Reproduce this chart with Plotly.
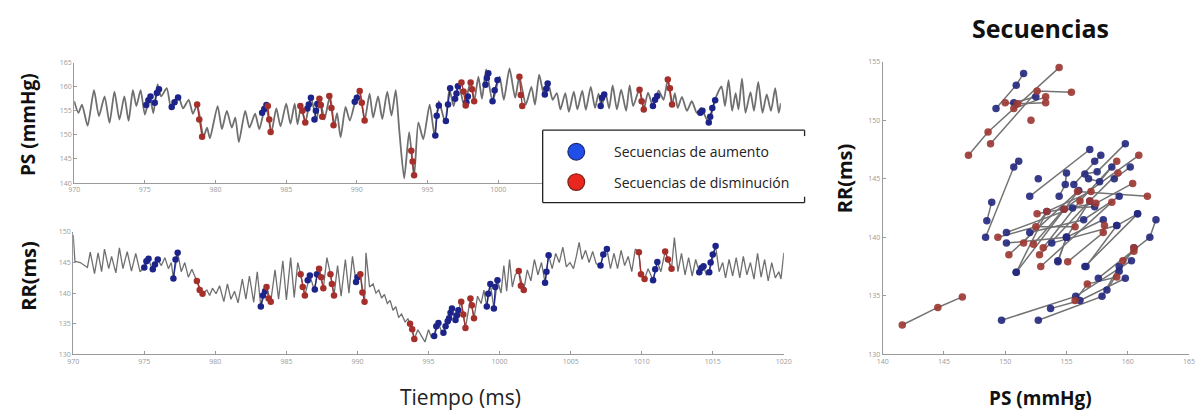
import plotly.graph_objects as go

W, H = 1201, 415

# ---------------- beat-to-beat series ----------------
ps_t = [970.0, 970.3, 970.55, 970.95, 971.4, 971.75, 972.15, 972.5, 972.85, 973.2,
        973.55, 973.85, 974.15, 974.4, 974.7, 975.0, 975.35, 975.6, 975.9, 976.15,
        976.55, 976.85, 977.35, 977.7, 978.1, 978.4, 978.7, 979.15, 979.4, 979.6,
        980.15, 980.45, 980.8, 981.15, 981.4, 981.65, 982.1, 982.4, 982.8, 983.1,
        983.55, 983.95, 984.3, 984.6, 985.0, 985.3, 985.6, 985.8, 986.05, 986.35,
        986.75, 987.15, 987.4, 987.7, 988.1, 988.4, 988.6, 988.85, 989.2, 989.5,
        989.95, 990.2, 990.55, 990.9, 991.15, 991.5, 991.8, 992.15, 992.45, 992.75,
        993.0, 993.35, 993.7, 994.05, 994.35, 994.7, 995.15, 995.5, 995.8, 996.25,
        996.55, 996.85, 997.2, 997.6, 998.05, 998.3, 998.6, 998.85, 999.15, 999.6,
        1000.1, 1000.4, 1000.8, 1001.2, 1001.5, 1001.95, 1002.35, 1002.6, 1002.9, 1003.25,
        1003.55, 1003.85, 1004.15, 1004.4, 1004.75, 1005.0, 1005.35, 1005.6, 1005.95, 1006.2,
        1006.55, 1006.85, 1007.1, 1007.3, 1007.6, 1007.85, 1008.1, 1008.4, 1008.7, 1009.05,
        1009.3, 1009.55, 1010.0, 1010.3, 1010.6, 1010.95, 1011.35, 1011.7, 1012.0, 1012.3,
        1012.5, 1012.7, 1013.0, 1013.35, 1013.7, 1014.05, 1014.35, 1014.55, 1014.9, 1015.35,
        1015.8, 1016.05, 1016.3, 1016.55, 1016.8, 1017.0, 1017.25, 1017.5, 1017.85, 1018.1,
        1018.4, 1018.7, 1019.0, 1019.3, 1019.6, 1019.85, 1020.0]
ps_v = [157.0, 154.6, 156.3, 151.9, 159.3, 153.9, 158.0, 152.5, 159.0, 153.2,
        158.0, 152.9, 159.3, 156.0, 159.3, 154.2, 158.0, 154.5, 160.5, 158.0,
        159.7, 155.8, 158.2, 155.5, 157.3, 154.4, 156.3, 149.6, 151.5, 149.3,
        156.0, 151.2, 155.0, 151.5, 153.6, 148.5, 155.0, 151.5, 154.4, 151.2,
        156.2, 150.6, 155.5, 151.8, 156.5, 152.3, 156.5, 152.2, 156.0, 152.6,
        157.7, 153.2, 157.5, 153.2, 158.1, 152.0, 154.5, 149.5, 155.8, 153.0,
        157.7, 159.1, 153.0, 158.6, 153.6, 158.0, 153.3, 159.0, 154.0, 159.3,
        151.0, 141.0, 150.6, 141.4, 152.6, 149.1, 156.3, 149.9, 157.0, 152.6,
        159.5, 156.0, 160.6, 156.0, 161.2, 157.0, 162.1, 157.5, 163.6, 157.0,
        162.1, 157.3, 163.8, 157.7, 162.1, 156.3, 160.0, 156.3, 162.5, 158.2,
        160.6, 157.3, 158.7, 155.3, 158.7, 154.8, 159.0, 155.3, 159.2, 155.2,
        160.0, 155.6, 158.6, 156.0, 158.6, 155.5, 160.3, 155.3, 159.4, 155.0,
        160.3, 156.0, 159.6, 155.3, 158.8, 156.0, 159.2, 157.3, 161.5, 156.3,
        158.7, 155.6, 157.9, 155.0, 157.0, 154.6, 155.6, 154.5, 152.6, 157.4,
        160.1, 156.0, 161.4, 155.0, 158.7, 155.3, 161.7, 154.6, 158.9, 155.0,
        161.0, 154.6, 158.4, 155.0, 159.7, 154.6, 156.6]

rr_t = [970.0, 970.12, 970.5, 970.8, 971.0, 971.2, 971.5, 971.75, 972.0, 972.2,
        972.5, 972.7, 973.0, 973.25, 973.5, 973.8, 974.1, 974.4, 974.7, 975.0,
        975.3, 975.55, 975.95, 976.2, 976.45, 976.7, 976.9, 977.05, 977.35, 977.6,
        977.85, 978.1, 978.35, 978.7, 979.1, 979.4, 979.6, 979.8, 980.05, 980.3,
        980.6, 980.85, 981.1, 981.35, 981.6, 981.9, 982.15, 982.4, 982.7, 982.95,
        983.2, 983.6, 983.9, 984.2, 984.45, 984.75, 985.0, 985.3, 985.55, 985.8,
        986.0, 986.3, 986.65, 986.95, 987.3, 987.6, 987.85, 988.1, 988.35, 988.6,
        988.85, 989.15, 989.4, 989.65, 989.9, 990.2, 990.5, 990.6, 990.85, 991.1,
        991.3, 991.5, 991.7, 991.9, 992.1, 992.3, 992.5, 992.7, 992.9, 993.1,
        993.35, 993.55, 993.7, 994.0, 994.25, 994.5, 994.75, 995.0, 995.2, 995.4,
        995.7, 995.9, 996.05, 996.35, 996.65, 996.85, 997.1, 997.3, 997.6, 997.8,
        997.95, 998.2, 998.45, 998.7, 998.9, 999.1, 999.35, 999.6, 999.85, 1000.1,
        1000.3, 1000.5, 1000.7, 1000.9, 1001.1, 1001.35, 1001.7, 1001.95, 1002.2, 1002.45,
        1002.7, 1002.95, 1003.2, 1003.45, 1003.7, 1003.95, 1004.2, 1004.45, 1004.7, 1004.95,
        1005.2, 1005.4, 1005.6, 1005.8, 1006.05, 1006.3, 1006.55, 1006.8, 1007.1, 1007.3,
        1007.55, 1007.8, 1008.05, 1008.3, 1008.55, 1008.8, 1009.05, 1009.3, 1009.55, 1009.8,
        1009.95, 1010.2, 1010.45, 1010.8, 1011.1, 1011.35, 1011.65, 1011.85, 1012.1, 1012.3,
        1012.55, 1012.8, 1013.05, 1013.3, 1013.55, 1013.8, 1014.05, 1014.35, 1014.55, 1014.75,
        1015.2, 1015.45, 1015.7, 1015.9, 1016.15, 1016.4, 1016.65, 1016.9, 1017.15, 1017.4,
        1017.65, 1017.9, 1018.15, 1018.4, 1018.65, 1018.9, 1019.15, 1019.4, 1019.65, 1019.8,
        1020.0]
rr_v = [149.5, 145.2, 145.0, 144.6, 144.2, 146.7, 143.2, 146.6, 143.5, 147.2,
        144.0, 146.0, 143.3, 147.4, 144.0, 146.8, 143.6, 146.5, 143.5, 144.2,
        145.6, 143.9, 145.5, 144.5, 145.8, 144.0, 145.0, 142.4, 146.6, 143.5,
        145.0, 142.6, 143.9, 142.0, 139.9, 140.5, 139.6, 140.8, 139.9, 141.2,
        138.6, 141.5, 139.0, 140.3, 138.4, 142.3, 139.0, 142.8, 138.5, 143.5,
        137.8, 141.0, 138.6, 143.8, 139.0, 145.3, 138.9, 145.8, 139.3, 145.0,
        143.1, 139.6, 142.9, 140.6, 144.0, 140.8, 145.8, 143.1, 139.6, 144.5,
        139.5, 145.5, 140.0, 146.0, 141.8, 143.1, 138.6, 146.6, 141.0, 141.5,
        140.0, 140.5, 139.2, 139.8, 138.3, 138.8, 137.2, 137.8, 136.0, 136.6,
        135.3, 135.8, 135.0, 132.5, 134.0, 133.0, 132.0, 134.0, 132.8, 133.0,
        135.1, 133.8, 133.5, 135.4, 137.5, 135.5, 137.2, 138.6, 134.3, 137.0,
        139.1, 135.9, 139.5, 138.3, 140.5, 137.8, 141.5, 137.5, 142.1, 140.0,
        144.5, 140.3, 145.5, 141.0, 143.0, 143.6, 140.5, 143.8, 142.0, 145.5,
        143.0, 145.0, 141.7, 146.2, 144.0, 146.5, 145.0, 147.5, 144.3, 145.0,
        144.0, 146.0, 148.3, 145.5, 147.0, 145.0, 146.8, 144.8, 144.5, 146.3,
        147.2, 144.0, 146.5, 144.0, 147.0, 144.5, 146.0, 143.5, 147.2, 146.7,
        143.1, 142.3, 144.0, 142.1, 145.1, 143.5, 146.8, 145.5, 144.0, 149.1,
        143.5, 146.5, 143.0, 145.8, 142.8, 145.5, 143.4, 144.4, 143.0, 143.4,
        147.7, 143.5, 145.0, 142.5, 145.5, 142.8, 145.8, 142.5, 146.0, 143.0,
        145.0, 142.3, 146.5, 142.6, 145.5, 142.0, 145.0, 142.5, 143.5, 142.3,
        146.6]

# ---------------- baroreflex sequences on each series ----------------
ps_up_t = [[975.1, 975.25, 975.4], [975.7, 975.85, 976.0], [976.9, 977.1, 977.35],
           [983.3, 983.45, 983.6], [986.5, 986.6, 986.75], [987.0, 987.1, 987.2],
           [989.85, 990.0], [995.55, 995.65, 995.8], [996.3, 996.45, 996.6],
           [996.95, 997.05, 997.15], [997.75, 997.85], [999.1, 999.2, 999.3],
           [999.6, 999.75, 999.95], [1003.3, 1003.4, 1003.5], [1007.25, 1007.35, 1007.5],
           [1010.95, 1011.1, 1011.25], [1014.3, 1014.45], [1014.9, 1015.0, 1015.15, 1015.35]]
ps_up_v = [[156.2, 157.2, 158.0], [156.7, 158.7, 159.5], [155.8, 156.8, 157.8],
           [154.6, 155.4, 156.2], [155.5, 156.3, 157.7], [153.2, 155.0, 156.4],
           [156.9, 157.7], [149.9, 154.0, 156.1], [152.9, 156.3, 159.7],
           [157.5, 158.6, 160.1], [156.8, 158.0], [160.4, 161.8, 162.8],
           [157.0, 159.3, 161.4], [158.4, 159.6, 160.7], [156.0, 157.7, 158.4],
           [156.0, 157.3, 158.1], [154.6, 155.0], [152.6, 153.8, 155.6, 157.2]]
ps_dn_t = [[978.7, 978.85, 979.05], [983.7, 983.8, 983.9], [986.0, 986.15, 986.35],
           [987.35, 987.45, 987.55], [988.05, 988.2, 988.35], [990.2, 990.35, 990.55],
           [993.85, 993.95, 994.05], [997.4, 997.55, 997.7], [998.05, 998.15, 998.3],
           [1001.5, 1001.6, 1001.7], [1010.0, 1010.15, 1010.3], [1012.0, 1012.15, 1012.3]]
ps_dn_v = [[156.3, 153.2, 149.6], [156.0, 153.2, 150.6], [156.0, 155.0, 152.6],
           [157.5, 156.2, 153.8], [158.1, 155.6, 152.0], [159.1, 156.7, 153.0],
           [146.7, 144.5, 141.6], [160.9, 159.0, 156.1], [160.9, 159.5, 157.0],
           [162.1, 158.3, 156.0], [159.4, 157.0, 155.3], [161.5, 159.7, 156.3]]

rr_up_t = [[975.0, 975.15, 975.3], [975.6, 975.75, 975.95], [977.05, 977.2, 977.35],
           [983.2, 983.35, 983.5], [986.5, 986.65], [987.0, 987.15], [989.9, 990.0],
           [995.4, 995.55, 995.7], [996.05, 996.2, 996.35], [996.45, 996.55, 996.65],
           [996.9, 997.0, 997.1], [999.1, 999.2, 999.35], [999.6, 999.7, 999.85],
           [1003.2, 1003.3, 1003.45], [1007.1, 1007.3, 1007.55], [1010.8, 1010.95, 1011.1],
           [1014.05, 1014.2, 1014.35], [1014.75, 1014.85, 1015.0, 1015.2]]
rr_up_v = [[144.2, 145.2, 145.6], [143.9, 144.7, 145.5], [142.4, 145.5, 146.6],
           [137.8, 139.6, 140.3], [142.1, 142.9], [140.6, 143.1], [141.8, 142.6],
           [133.0, 134.6, 135.1], [133.5, 134.6, 135.4], [135.9, 136.8, 137.5],
           [135.6, 136.4, 137.2], [137.8, 139.9, 141.5], [137.5, 141.0, 142.1],
           [141.7, 143.5, 146.2], [144.5, 146.3, 147.2], [142.1, 143.9, 145.1],
           [143.4, 144.1, 144.4], [143.4, 145.0, 146.3, 147.7]]
rr_dn_t = [[978.7, 978.9, 979.1], [983.6, 983.75, 983.9], [986.0, 986.15, 986.3],
           [987.3, 987.45, 987.6], [988.1, 988.2, 988.35], [990.2, 990.35, 990.5],
           [993.7, 993.85, 994.0], [997.3, 997.45, 997.6], [997.95, 998.05, 998.2],
           [1001.35, 1001.5, 1001.7], [1009.8, 1009.95, 1010.2], [1011.65, 1011.85, 1012.1]]
rr_dn_v = [[142.0, 140.5, 139.9], [141.0, 139.1, 138.6], [143.1, 141.0, 139.6],
           [144.0, 142.6, 140.8], [143.1, 141.5, 139.6], [143.1, 140.1, 138.6],
           [135.0, 134.1, 132.5], [138.6, 136.5, 134.3], [139.1, 138.0, 135.9],
           [143.6, 141.2, 140.5], [146.7, 143.1, 142.3], [146.8, 145.5, 144.0]]

# ---------------- RR vs PS pairs of every sequence ----------------
sc_up_ps = [[149.25, 150.9, 151.5], [150.7, 152.5], [148.4, 150.7, 151.1], [152.0, 156.9],
            [154.4, 154.9, 155.0], [155.6, 157.3, 157.8], [156.5, 157.5, 159.8],
            [156.8, 157.7, 158.7], [158.9, 160.2], [148.5, 148.9], [152.7],
            [150.1, 155.0, 158.0], [150.1, 155.5, 157.3], [152.0, 156.4, 159.3],
            [153.8, 159.1, 160.8], [150.9, 154.8, 156.0], [154.3, 155.0, 156.9],
            [156.5, 160.8], [157.6, 161.8, 162.3], [149.7, 155.75, 160.3],
            [152.7, 157.9, 159.3], [153.7, 156.1, 159.8], [158.3, 159.3, 160.5],
            [150.9, 153.4], [154.3, 155.0], [156.6, 159.1]]
sc_up_rr = [[151.0, 153.0, 154.0], [151.5, 152.0], [140.0, 146.0, 146.5], [143.5, 147.5],
            [143.5, 144.5, 145.5], [144.5, 146.5, 147.0], [145.4, 145.6, 148.0],
            [145.0, 144.75, 146.0], [145.0, 146.0], [141.4, 143.0], [145.0],
            [139.5, 140.0, 141.5], [140.4, 142.5, 142.6], [140.4, 141.5, 143.5],
            [139.5, 141.0, 142.0], [137.0, 142.4, 144.0], [137.9, 140.0, 143.1],
            [137.5, 142.0], [136.5, 140.0, 141.5], [132.9, 134.95, 138.0],
            [132.9, 134.95, 137.5], [133.9, 134.6, 136.5], [135.5, 137.1, 139.1],
            [137.0, 142.2], [138.0, 140.0], [137.5, 141.0]]
sc_dn_ps = [[147.0, 148.6, 154.4], [148.8, 152.6, 155.4], [150.0, 151.0, 153.3],
            [150.7, 153.3], [152.1], [141.6, 144.5, 146.5], [149.4, 152.5, 155.7],
            [151.5, 153.4, 157.0], [152.3, 154.8, 160.9], [153.1, 156.1, 159.1],
            [150.3, 155.9, 161.6], [152.8, 156.9, 159.2], [152.9, 158.7],
            [155.1, 158.0, 158.1], [152.6, 157.4, 160.4], [155.7, 156.7, 159.1],
            [159.6, 160.5, 160.5]]
sc_dn_rr = [[147.0, 149.0, 154.5], [148.0, 152.5, 152.4], [151.5, 151.4, 151.5],
            [151.0, 152.0], [150.0], [132.5, 134.0, 134.9], [140.0, 140.9, 140.9],
            [139.5, 142.2, 143.9], [139.4, 142.4, 147.0], [139.1, 143.1, 146.5],
            [138.5, 143.9, 143.5], [138.5, 143.1, 145.5], [137.5, 143.0],
            [137.9, 140.4, 141.0], [142.0, 142.9, 144.6], [134.6, 136.0, 136.6],
            [138.0, 138.8, 139.1]]

time_ticks = list(range(970, 1021, 5))
# the PS panel labels stop where the legend box sits over the axis
ps_time_ticktext = [str(v) if v <= 1000 else "" for v in time_ticks]

# ---------------- styling ----------------
LINE_GRAY = "#6f6f6f"
NAVY = "#1d2489"
DRED = "#a5302b"
SC_NAVY = "#262a7e"
SC_RED = "#9c3a34"
AX = "#9a9a9a"
FONT = "Open Sans"


def joined(groups_x, groups_y):
    xs, ys = [], []
    for gx, gy in zip(groups_x, groups_y):
        xs += list(gx) + [None]
        ys += list(gy) + [None]
    return xs, ys


fig = go.Figure()

# PS series (top)
fig.add_trace(go.Scatter(x=ps_t, y=ps_v, mode="lines", xaxis="x", yaxis="y",
                         line=dict(color=LINE_GRAY, width=1.8, shape="spline", smoothing=0.6),
                         hoverinfo="skip"))
for gx, gy, col in [(ps_up_t, ps_up_v, NAVY), (ps_dn_t, ps_dn_v, DRED)]:
    xs, ys = joined(gx, gy)
    fig.add_trace(go.Scatter(x=xs, y=ys, mode="lines+markers", xaxis="x", yaxis="y",
                             line=dict(color=col, width=1.3),
                             marker=dict(color=col, size=6.5), connectgaps=False))

# RR series (bottom)
fig.add_trace(go.Scatter(x=rr_t, y=rr_v, mode="lines", xaxis="x2", yaxis="y2",
                         line=dict(color=LINE_GRAY, width=1.3), hoverinfo="skip"))
for gx, gy, col in [(rr_up_t, rr_up_v, NAVY), (rr_dn_t, rr_dn_v, DRED)]:
    xs, ys = joined(gx, gy)
    fig.add_trace(go.Scatter(x=xs, y=ys, mode="lines+markers", xaxis="x2", yaxis="y2",
                             line=dict(color=col, width=1.3),
                             marker=dict(color=col, size=6.5), connectgaps=False))

# RR vs PS scatter (right): gray segments first, dots on top
for gx, gy in [(sc_up_ps, sc_up_rr), (sc_dn_ps, sc_dn_rr)]:
    xs, ys = joined(gx, gy)
    fig.add_trace(go.Scatter(x=xs, y=ys, mode="lines", xaxis="x3", yaxis="y3",
                             line=dict(color="#737373", width=1.5), connectgaps=False))
for gx, gy, col in [(sc_up_ps, sc_up_rr, SC_NAVY), (sc_dn_ps, sc_dn_rr, SC_RED)]:
    xs, ys = joined(gx, gy)
    fig.add_trace(go.Scatter(x=xs, y=ys, mode="markers", xaxis="x3", yaxis="y3",
                             marker=dict(color=col, size=7.5, opacity=0.92)))


def fx(px):
    return px / W


def fy(py):
    return 1 - py / H


axis_common = dict(showline=True, linecolor=AX, linewidth=1, ticks="inside", ticklen=3,
                   tickcolor=AX, tickfont=dict(size=7, color="#9a9a9a", family=FONT),
                   showgrid=False, zeroline=False, mirror=False, fixedrange=True)

fig.update_layout(
    width=W, height=H, margin=dict(l=0, r=0, t=0, b=0),
    paper_bgcolor="white", plot_bgcolor="white", showlegend=False,
    xaxis=dict(domain=[fx(69), fx(784)], range=[970, 1020], tickvals=time_ticks,
               ticktext=ps_time_ticktext, anchor="y", **axis_common),
    yaxis=dict(domain=[fy(182), fy(59)], range=[140, 165], tickvals=list(range(140, 166, 5)),
               anchor="x", **axis_common),
    xaxis2=dict(domain=[fx(68), fx(787)], range=[970, 1020], tickvals=time_ticks,
                anchor="y2", **axis_common),
    yaxis2=dict(domain=[fy(357), fy(232)], range=[130, 150], tickvals=list(range(130, 151, 5)),
                anchor="x2", **axis_common),
    xaxis3=dict(domain=[fx(887), fx(1197)], range=[140, 165], tickvals=list(range(140, 166, 5)),
                anchor="y3", **axis_common),
    yaxis3=dict(domain=[fy(357), fy(58)], range=[130, 155], tickvals=list(range(130, 156, 5)),
                anchor="x3", **axis_common),
)

# Legend box (drawn over the PS panel)
shapes = [
    dict(type="rect", xref="paper", yref="paper", x0=fx(543), x1=fx(808), y0=fy(202), y1=fy(128),
         fillcolor="white", line=dict(width=0), layer="above"),
    dict(type="line", xref="paper", yref="paper", x0=fx(543), x1=fx(808), y0=fy(128), y1=fy(128),
         line=dict(color="#222", width=1.3), layer="above"),
    dict(type="line", xref="paper", yref="paper", x0=fx(543), x1=fx(808), y0=fy(202), y1=fy(202),
         line=dict(color="#222", width=1.3), layer="above"),
    dict(type="line", xref="paper", yref="paper", x0=fx(543), x1=fx(543), y0=fy(128), y1=fy(202),
         line=dict(color="#222", width=1.3), layer="above"),
    dict(type="line", xref="paper", yref="paper", x0=fx(808), x1=fx(808), y0=fy(128), y1=fy(134),
         line=dict(color="#222", width=1.3), layer="above"),
    dict(type="line", xref="paper", yref="paper", x0=fx(808), x1=fx(808), y0=fy(196), y1=fy(202),
         line=dict(color="#222", width=1.3), layer="above"),
    dict(type="circle", xref="paper", yref="paper", x0=fx(568.5), x1=fx(585.5), y0=fy(158.5), y1=fy(141.5),
         fillcolor="#1f4fe8", line=dict(color="#1a2a70", width=1.2), layer="above"),
    dict(type="circle", xref="paper", yref="paper", x0=fx(568.5), x1=fx(585.5), y0=fy(189.5), y1=fy(172.5),
         fillcolor="#e8281e", line=dict(color="#7a2018", width=1.2), layer="above"),
]
fig.update_layout(shapes=shapes)

ann = [
    dict(text="Secuencias de aumento", x=fx(613), y=fy(150), xanchor="left", yanchor="middle",
         font=dict(size=14, color="#222", family=FONT)),
    dict(text="Secuencias de disminución", x=fx(613), y=fy(181), xanchor="left", yanchor="middle",
         font=dict(size=14, color="#222", family=FONT)),
    dict(text="PS (mmHg)", x=fx(23), y=fy(122), textangle=-90, xanchor="center", yanchor="middle",
         font=dict(size=19, color="#111", family=FONT, weight="bold")),
    dict(text="RR(ms)", x=fx(23), y=fy(277), textangle=-90, xanchor="center", yanchor="middle",
         font=dict(size=20, color="#111", family=FONT, weight="bold")),
    dict(text="Tiempo (ms)", x=fx(460), y=fy(401), xanchor="center", yanchor="middle",
         font=dict(size=21, color="#222", family=FONT)),
    dict(text="Secuencias", x=fx(1047), y=fy(24), xanchor="center", yanchor="middle",
         font=dict(size=25, color="#111", family=FONT, weight="bold")),
    dict(text="PS (mmHg)", x=fx(1047), y=fy(402), xanchor="center", yanchor="middle",
         font=dict(size=19, color="#111", family=FONT, weight="bold")),
    dict(text="RR(ms)", x=fx(848), y=fy(177), textangle=-90, xanchor="center", yanchor="middle",
         font=dict(size=20, color="#111", family=FONT, weight="bold")),
]
for a in ann:
    a.update(xref="paper", yref="paper", showarrow=False)
fig.update_layout(annotations=ann)

fig.write_html("out.html")
